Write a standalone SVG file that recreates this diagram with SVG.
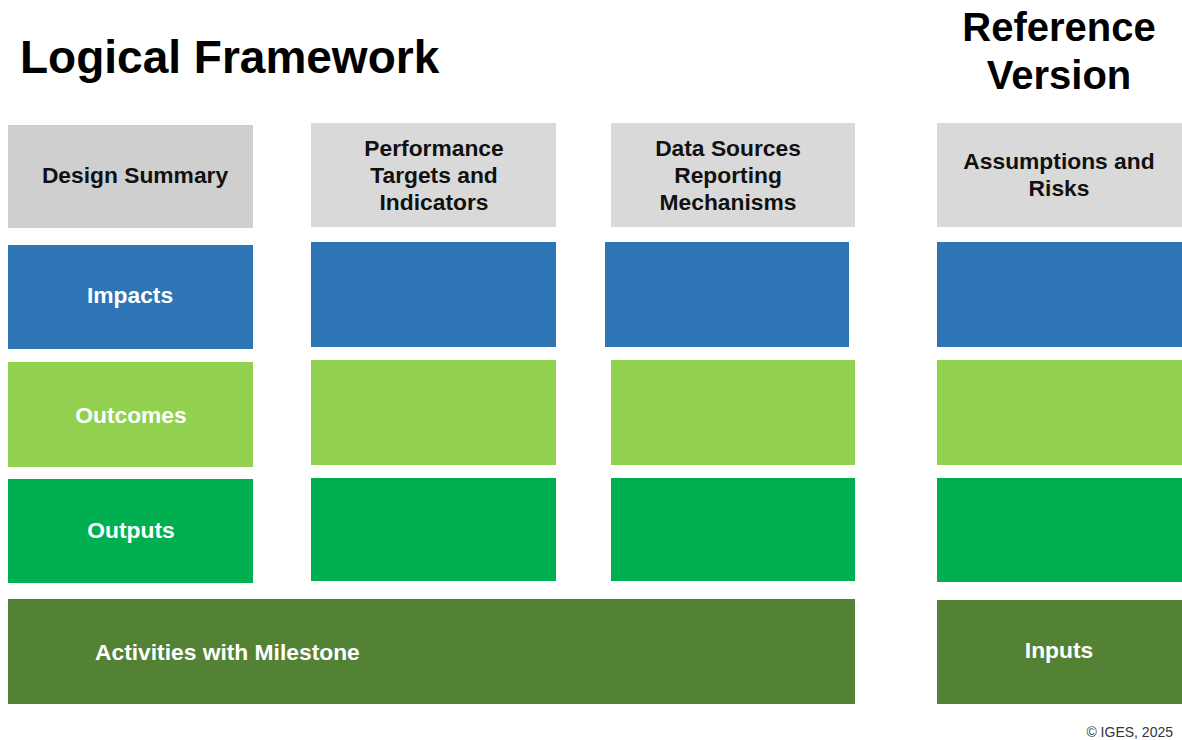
<svg xmlns="http://www.w3.org/2000/svg" width="1182" height="740" viewBox="0 0 1182 740">
<style>
text{font-family:"Liberation Sans",Arial,Helvetica,sans-serif;font-weight:bold;}
.title{font-size:46px;fill:#000;}
.ref{font-size:40px;fill:#000;text-anchor:middle;}
.hd{fill:#d9d9d9;}
.hd1{fill:#cfcfcf;}
.imp{fill:#2e75b6;}
.outc{fill:#92d050;}
.outp{fill:#00b050;}
.act{fill:#548235;}
.ht{font-size:22.8px;fill:#111;text-anchor:middle;}
.lt{font-size:22.8px;fill:#fff;text-anchor:middle;}
.copy{font-size:14px;font-weight:normal;fill:#333;text-anchor:end;}
</style>
<rect width="1182" height="740" fill="#fff"/>
<text class="title" x="20" y="73">Logical Framework</text>
<text class="ref" x="1059" y="41">Reference</text>
<text class="ref" x="1059" y="89">Version</text>

<g id="col1">
<g id="design-summary"><rect class="hd1" x="8" y="125" width="245" height="103"/><text class="ht" x="135" y="183">Design Summary</text></g>
<g id="impacts"><rect class="imp" x="8" y="245" width="245" height="104"/><text class="lt" x="130" y="303">Impacts</text></g>
<g id="outcomes"><rect class="outc" x="8" y="362" width="245" height="105"/><text class="lt" x="131" y="423">Outcomes</text></g>
<g id="outputs"><rect class="outp" x="8" y="479" width="245" height="104"/><text class="lt" x="131" y="538">Outputs</text></g>
</g>

<g id="col2">
<g id="perf-header"><rect class="hd" x="311" y="123" width="245" height="104"/><text class="ht" x="434" y="156">Performance</text><text class="ht" x="434" y="183">Targets and</text><text class="ht" x="434" y="210">Indicators</text></g>
<g id="perf-impacts"><rect class="imp" x="311" y="242" width="245" height="105"/></g>
<g id="perf-outcomes"><rect class="outc" x="311" y="360" width="245" height="105"/></g>
<g id="perf-outputs"><rect class="outp" x="311" y="478" width="245" height="103"/></g>
</g>

<g id="col3">
<g id="data-header"><rect class="hd" x="611" y="123" width="244" height="104"/><text class="ht" x="728" y="156">Data Sources</text><text class="ht" x="728" y="183">Reporting</text><text class="ht" x="728" y="210">Mechanisms</text></g>
<g id="data-impacts"><rect class="imp" x="605" y="242" width="244" height="105"/></g>
<g id="data-outcomes"><rect class="outc" x="611" y="360" width="244" height="105"/></g>
<g id="data-outputs"><rect class="outp" x="611" y="478" width="244" height="103"/></g>
</g>

<g id="col4">
<g id="assump-header"><rect class="hd" x="937" y="123" width="245" height="104"/><text class="ht" x="1059" y="169">Assumptions and</text><text class="ht" x="1059" y="196">Risks</text></g>
<g id="assump-impacts"><rect class="imp" x="937" y="242" width="245" height="105"/></g>
<g id="assump-outcomes"><rect class="outc" x="937" y="360" width="245" height="105"/></g>
<g id="assump-outputs"><rect class="outp" x="937" y="478" width="245" height="104"/></g>
</g>

<g id="activities"><rect class="act" x="8" y="599" width="847" height="105"/><text class="lt" x="95" y="660" style="text-anchor:start">Activities with Milestone</text></g>
<g id="inputs"><rect class="act" x="937" y="600" width="245" height="104"/><text class="lt" x="1059" y="658">Inputs</text></g>

<g id="connectors"></g>
<text class="copy" x="1173" y="737">© IGES, 2025</text>
</svg>
